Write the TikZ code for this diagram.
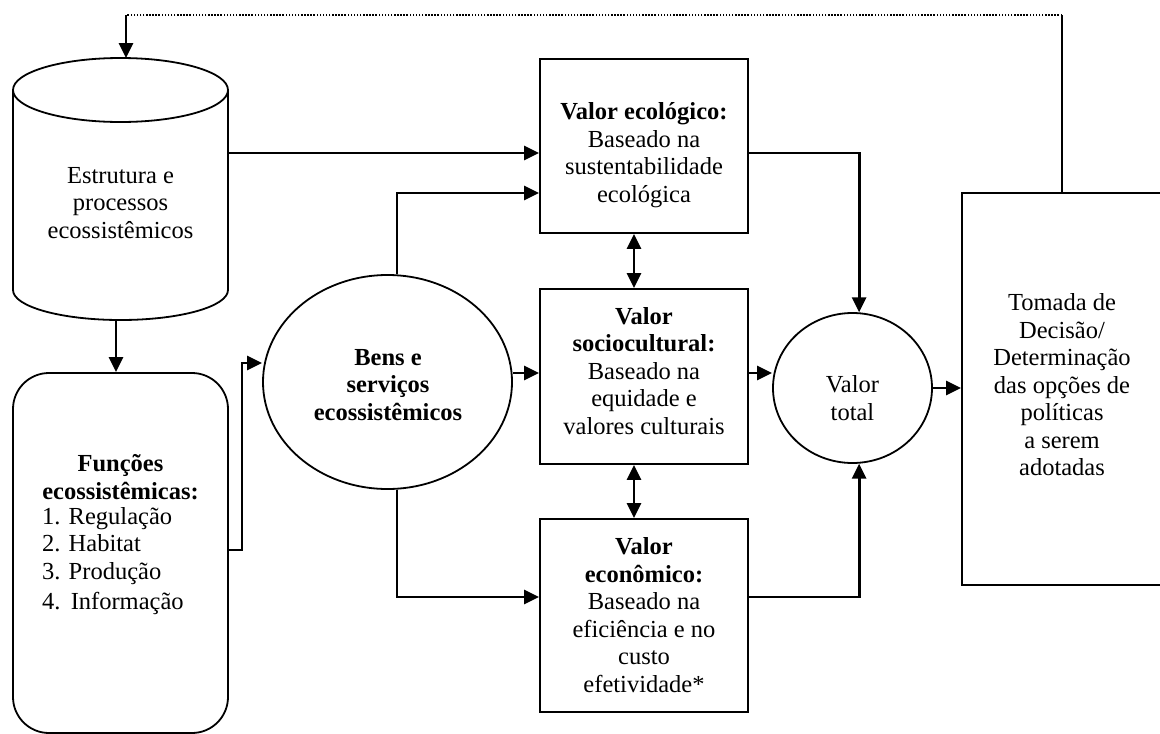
\documentclass[tikz,border=0pt]{standalone}
\usepackage{fontspec}
\setmainfont{Liberation Serif}
\usetikzlibrary{arrows.meta,shapes.geometric}
\begin{document}
\begin{tikzpicture}[x=1pt,y=-1pt,
  box/.style={draw,line width=1.8pt,rectangle,inner sep=0pt},
  oval/.style={draw,line width=1.8pt,ellipse,inner sep=0pt},
  txt/.style={align=center,font=\fontsize{24.5}{27.5}\selectfont,inner sep=0pt},
  btxt/.style={align=center,font=\fontsize{24.5}{27.5}\selectfont\bfseries,inner sep=0pt},
  tip/.tip={Triangle[length=15pt,width=14pt]},
  arr/.style={line width=2.8pt,-tip},
  darr/.style={line width=2.8pt,tip-tip},
  ln/.style={line width=1.8pt},
  dotline/.style={line width=1.6pt,dash pattern=on 1.5pt off 1.6pt},
]
\useasboundingbox (0,0) rectangle (1160,734);

% cylinder outline
\draw[ln] (13,90) -- (13,290) arc[start angle=180,end angle=360,x radius=107.5pt,y radius=30pt] -- (228,90);
\draw[ln] (120.5,90) ellipse[x radius=107.5pt, y radius=32pt];
\node[txt] (tcyl) at (120.5,203) {Estrutura e\\processos\\ecossistêmicos};

% nodes
\node[box,rounded corners=36pt,minimum width=215pt,minimum height=360pt] (func) at (120.5,553) {};
\node[btxt] (tfun) at (120.5,477) {Funções\\ecossistêmicas:};
\node[txt,align=left,anchor=west] (tlist) at (42,561) {1. Regulação\\2. Habitat\\3. Produção\\[3pt]4.\ \,Informação};

\node[oval,minimum width=249pt,minimum height=214pt] (bens) at (387.5,382) {};
\node[btxt] (tbens) at (388,385) {Bens e\\serviços\\ecossistêmicos};

\node[box,minimum width=208pt,minimum height=174pt] (ecol) at (644,146) {};
\node[txt] (tecol) at (644,155) {\textbf{Valor ecológico:}\\Baseado na\\sustentabilidade\\ecológica};

\node[box,minimum width=208pt,minimum height=175pt] (soc) at (644,376.5) {};
\node[txt] (tsoc) at (644,371) {\textbf{Valor}\\\textbf{sociocultural:}\\Baseado na\\equidade e\\valores culturais};

\node[box,minimum width=208pt,minimum height=193pt] (econ) at (644,615.5) {};
\node[txt] (tecon) at (644,615) {\textbf{Valor}\\\textbf{econômico:}\\Baseado na\\eficiência e no\\custo\\efetividade*};

\node[oval,minimum width=159pt,minimum height=150pt] (tot) at (852.5,388) {};
\node[txt] (ttot) at (852.5,398) {Valor\\total};

\node[box,minimum width=200pt,minimum height=392pt] (dec) at (1062,389) {};
\node[txt] (tdec) at (1062,385) {Tomada de\\Decisão/\\Determinação\\das opções de\\políticas\\a serem\\adotadas};

% coordinates
\coordinate (cylR) at (228,153);
\coordinate (cylB) at (116,320);
\coordinate (cylT) at (126,58);
\coordinate (loopR) at (dec.north |- 0,15);
\coordinate (loopL) at (126,15);

% connectors
\draw[arr] (cylR) -- (cylR -| ecol.west);
\draw[arr] (bens.85) |- (ecol.west |- 0,193);
\draw[arr] (cylB) -- (cylB |- func.north);
\draw[arr] (func.east |- 0,550) -| (242,363) -- (bens.west |- 0,363);
\draw[arr] (bens.east |- 0,373) -- (soc.west |- 0,373);
\draw[arr] (bens.-85) |- (econ.west |- 0,597);
\draw[darr] (ecol.south -| 634,0) -- (soc.north -| 634,0);
\draw[darr] (soc.south -| 634,0) -- (econ.north -| 634,0);
\draw[arr] (ecol.east |- 0,153) -| (tot.85);
\draw[arr] (soc.east |- 0,373) -- (tot.west |- 0,373);
\draw[arr] (econ.east |- 0,597) -| (tot.-85);
\draw[arr] (tot.east) -- (tot.east -| dec.west);
\draw[ln] (dec.north) -- (loopR);
\draw[dotline] (loopR) -- (loopL);
\draw[arr] (loopL) -- (cylT);
\end{tikzpicture}
\end{document}
